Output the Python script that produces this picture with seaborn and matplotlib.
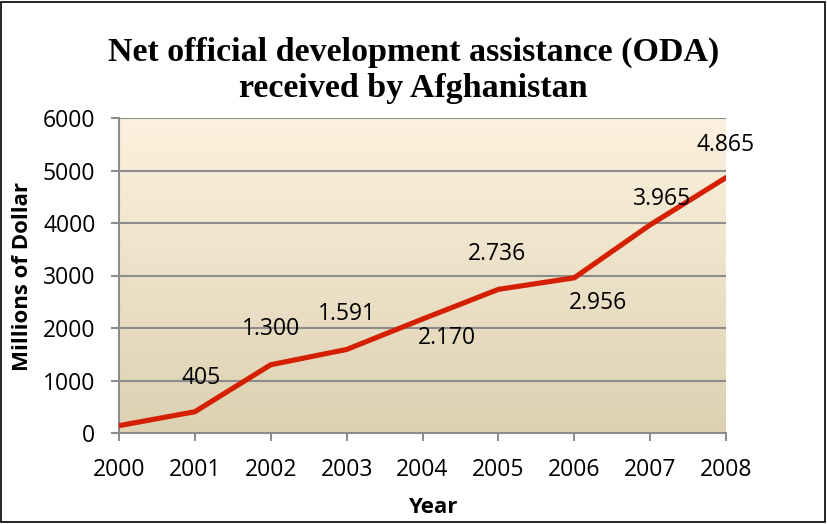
import numpy as np
import pandas as pd
import matplotlib
matplotlib.use("Agg")
import matplotlib.pyplot as plt
import seaborn as sns
from matplotlib.patches import Rectangle

# Net ODA received by Afghanistan, millions of US dollars
years = [2000, 2001, 2002, 2003, 2004, 2005, 2006, 2007, 2008]
oda = [140, 405, 1300, 1591, 2170, 2736, 2956, 3965, 4865]
value_labels = ["", "405", "1.300", "1.591", "2.170", "2.736", "2.956", "3.965", "4.865"]
y_ticks = [0, 1000, 2000, 3000, 4000, 5000, 6000]

# label offsets in pixels (dx, dy) relative to each point
label_offsets = [(0, 0), (6, 34), (0, 36), (0, 35), (24, -19), (-1, 35), (24, -25), (12, 26), (0, 33)]

sns.set_theme(style="white")
plt.rcParams["font.family"] = ["Open Sans", "DejaVu Sans"]
plt.rcParams["text.color"] = "black"
plt.rcParams["axes.labelcolor"] = "black"
plt.rcParams["xtick.color"] = "black"
plt.rcParams["ytick.color"] = "black"

df = pd.DataFrame({"Year": years, "ODA": oda})

fig = plt.figure(figsize=(8.27, 5.24), dpi=100)
ax = fig.add_axes([119 / 827, 91 / 524, 607 / 827, 315 / 524])

# vertical cream-to-tan gradient behind the plot
top = np.array([252, 241, 222]) / 255
bottom = np.array([221, 209, 178]) / 255
t = np.linspace(0, 1, 256)[:, None]
grad = (1 - t) * top + t * bottom
ax.imshow(grad[:, None, :], extent=[2000, 2008, 0, 6000], aspect="auto",
          origin="upper", zorder=0, interpolation="bilinear")

for yv in y_ticks[1:]:
    ax.axhline(yv, color="#8c8c8c", lw=1.5, zorder=1)

sns.lineplot(data=df, x="Year", y="ODA", ax=ax, color="#D42000", lw=3.7,
             zorder=3, solid_joinstyle="miter")

for x, y, lab, (dx, dy) in zip(years, oda, value_labels, label_offsets):
    if lab:
        ax.annotate(lab, (x, y), xytext=(dx * 0.72, dy * 0.72), textcoords="offset points",
                    ha="center", va="center", fontsize=16.5, color="black", zorder=4)

ax.set_xlim(2000, 2008)
ax.set_ylim(0, 6000)
ax.set_xticks(years)
ax.set_yticks(y_ticks)
ax.set_xticklabels([str(y) for y in years])
ax.tick_params(axis="both", which="both", direction="out", length=6, width=1.5,
               color="#8c8c8c", labelcolor="black", labelsize=16.5,
               bottom=True, left=True)
ax.tick_params(axis="x", pad=12)
ax.tick_params(axis="y", pad=11)

for side in ["top", "right"]:
    ax.spines[side].set_visible(False)
for side in ["left", "bottom"]:
    ax.spines[side].set_color("#8c8c8c")
    ax.spines[side].set_linewidth(1.5)

ax.set_xlabel("Year", fontsize=16, fontweight="bold", va="center")
ax.set_ylabel("Millions of Dollar", fontsize=16, fontweight="bold", va="center")
ax.xaxis.set_label_coords(0.517, -0.235)
ax.yaxis.set_label_coords(-0.159, 0.498)

fig.text(0.5, 0.866, "Net official development assistance (ODA)\nreceived by Afghanistan",
         ha="center", va="center", fontsize=24.5, fontweight="bold",
         family=["Liberation Serif", "DejaVu Sans"], linespacing=1.22)

fig.patches.append(Rectangle((0.001, 0.004), 0.997, 0.993, transform=fig.transFigure,
                             fill=False, edgecolor="black", lw=1.2))

fig.savefig("out.png", dpi=100)
